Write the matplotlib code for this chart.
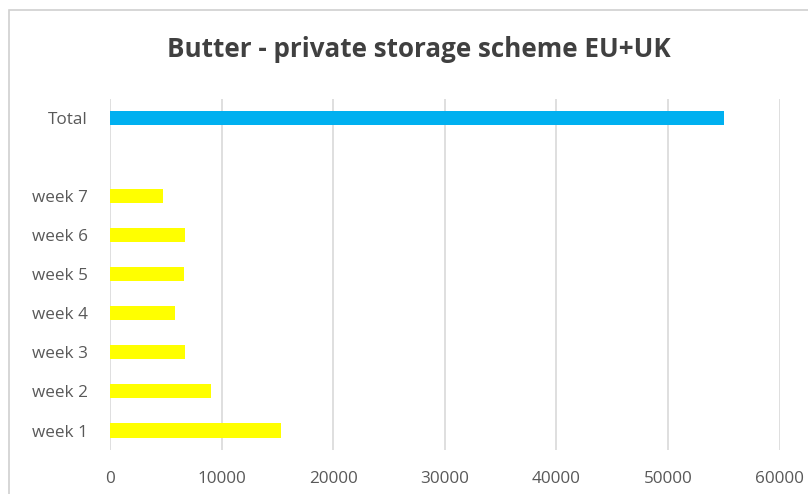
import matplotlib
matplotlib.use("Agg")
import matplotlib.pyplot as plt
from matplotlib.patches import Rectangle

categories = ["week 1", "week 2", "week 3", "week 4", "week 5", "week 6", "week 7", "", "Total"]
values = [15350, 9050, 6700, 5850, 6650, 6750, 4750, None, 55000]
colors = ["#FFFF00"] * 7 + ["none", "#00B0F0"]
xticks = [0, 10000, 20000, 30000, 40000, 50000, 60000]

plt.rcParams['font.family'] = ['Open Sans', 'DejaVu Sans']

fig = plt.figure(figsize=(8.08, 4.94), dpi=100)
ax = fig.add_axes([0.136, 0.089, 0.829, 0.7116])

ypos = list(range(len(categories)))
for y, v, c in zip(ypos, values, colors):
    if v is not None:
        ax.barh(y, v, height=0.36, color=c, zorder=3)

ax.set_ylim(-0.5, len(categories) - 0.5)
ax.set_xlim(0, 60000)
ax.set_yticks(ypos)
ax.set_yticklabels(categories)
ax.set_xticks(xticks)
ax.set_xticklabels([str(t) for t in xticks])
ax.tick_params(axis='both', length=0, labelsize=12.3, colors='#595959')
ax.tick_params(axis='y', pad=16)
ax.tick_params(axis='x', pad=15)
ax.grid(axis='x', color='#D9D9D9', linewidth=1.2, zorder=0)
for s in ax.spines.values():
    s.set_visible(False)

fig.text(0.518, 0.899, "Butter - private storage scheme EU+UK", ha='center', va='center',
         fontsize=18.7, fontweight='bold', color='#404040')

fig.patches.append(Rectangle((0.011, -0.1), 1.1, 1.08, transform=fig.transFigure,
                             fill=False, edgecolor='#D0D0D0', linewidth=1.2))

fig.savefig("out.png", dpi=100)
